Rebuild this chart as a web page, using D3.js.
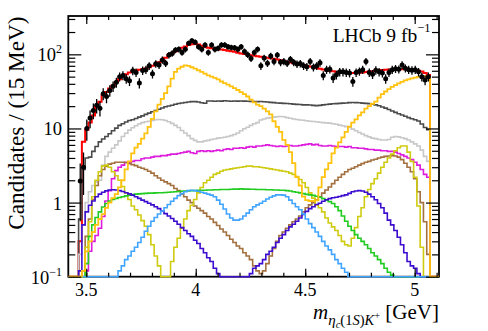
<!DOCTYPE html>
<html>
<head>
<meta charset="utf-8">
<script src="https://cdn.jsdelivr.net/npm/d3@7"></script>
<style>
	body { margin: 0; background: white; }
	svg text { font-family: "Liberation Serif", "Times New Roman", serif; fill: black; }
</style>
</head>
<body>
<div id="chart"></div>
<script>
// binning: 15 MeV bins starting at 3.465 GeV
var binLo = 3.465, binW = 0.015;

var dataPts = [1.96, 3.0, 10, 13.8, 17.5, 20.5, 18.8, 29.5, 27, 32.5,
	37, 42, 50, 52, 47, 44, 60, 57, 41, 60.5,
	62, 70, 54.6, 74.6, 72, 84, 76, 98, 103, 114,
	117, 106, 117, 141, 153, 146, 127, 117, 134, 106,
	134, 117, 121, 134, 134, 127, 124, 123, 117, 127,
	109, 99, 88, 106, 117, 70, 89, 76, 95, 80,
	98, 78, 80, 76, 86, 78, 74, 75, 70, 68,
	80, 67, 70, 77, 52, 62, 63, 48, 53, 58,
	58, 57, 56, 43, 57, 59, 62, 80, 57, 54,
	61, 58, 56, 47, 57, 62, 64, 63, 72, 65,
	62, 61, 62, 58, 50, 45, 50];

var totalFit = [0.3, 6.6, 9.6, 12, 15, 19.5, 23, 28, 31, 34.5,
	38, 42, 46, 51, 54, 57, 59, 61, 62, 63,
	64.5, 67, 70, 73, 78, 83, 90, 97, 104, 110,
	117, 123, 128, 134, 137, 138, 136, 131, 126, 123,
	121, 119, 117.5, 116, 114, 112, 110, 108, 105, 103,
	101, 99.5, 97.5, 96, 94, 93, 91.5, 90, 88.5, 87,
	85, 83, 81, 79, 77.5, 76, 74.5, 73, 71, 69.5,
	68.5, 67, 65.5, 64, 62.5, 61, 60, 59, 58, 57,
	56.5, 56, 55.8, 55.8, 56, 56.5, 57, 57.8, 58.5, 59.2,
	60, 60.8, 61.5, 62, 62.3, 62.5, 62.8, 63, 63, 63,
	62.5, 62, 61, 60, 58.5, 56, 52.7];

var darkGray = [0.6, 2.8, 4.0, 4.1, 4.9, 5.7, 6.6, 7.2, 7.8, 8.5,
	9.3, 10.1, 11, 11.6, 12.2, 12.8, 13.1, 13.6, 14.2, 14.8,
	15.5, 16.1, 16.8, 17.5, 18.2, 18.9, 19.6, 20.1, 20.6, 21.2,
	21.7, 22.1, 22.4, 22.7, 23, 23, 22.7, 22.2, 21.9, 23.5,
	23.5, 23.3, 23.5, 23.4, 23.6, 23.5, 23.3, 23.5, 23.4, 23.5,
	23.4, 23.3, 23.2, 23.1, 23, 23.1, 22.9, 22.7, 22.5, 22.3,
	22.1, 22.0, 21.8, 21.7, 21.5, 21.3, 21.1, 21.0, 20.8, 20.8,
	20.7, 20.5, 20.3, 20.5, 20.8, 21.0, 21.3, 21.5, 21.6, 21.8,
	22.0, 22.1, 22.3, 22.4, 22.3, 22.2, 22.0, 21.8, 21.6, 21.3,
	20.8, 20.2, 19.5, 18.8, 18.0, 17.2, 16.5, 15.8, 15.2, 14.6,
	14.0, 13.5, 13.1, 12.6, 11.5, 10.3, 9.6];

var lightGray = [0.2, 0.5, 1.0, 1.4, 1.7, 1.9, 2.0, 3.2, 4.2, 4.8,
	5.4, 6.0, 6.8, 7.8, 8.6, 9.5, 10.2, 10.9, 11.5, 12.0,
	12.3, 12.5, 12.8, 13.1, 13.2, 13.1, 12.8, 12.3, 11.7, 11.0,
	10.3, 9.4, 8.7, 8.0, 7.3, 6.9, 6.6, 6.6, 6.8, 6.9,
	7.1, 7.2, 7.4, 7.5, 7.6, 7.8, 8.0, 8.3, 8.7, 9.3,
	9.9, 10.4, 11.0, 11.6, 12.0, 13.0, 13.4, 13.8, 14.0, 14.2,
	14.4, 14.5, 14.4, 14.0, 13.7, 13.4, 13.2, 13.0, 12.9, 12.7,
	12.5, 12.4, 12.3, 12.1, 12.0, 11.9, 11.8, 11.6, 11.4, 11.1,
	10.9, 10.6, 10.3, 9.8, 9.3, 8.8, 8.4, 8.0, 7.7, 7.4,
	7.3, 7.1, 7.0, 7.0, 7.1, 7.6, 7.8, 7.7, 7.5, 7.3,
	7.0, 6.6, 6.2, 5.8, 5.1, 4.2, 3.6];

var gold = [0.05, 0.12, 0.22, 0.3, 0.4, 0.5, 0.6, 0.7, 0.85, 1.0,
	1.15, 1.3, 1.6, 2.0, 2.8, 3.6, 4.6, 5.5, 6.2, 7.3,
	8.6, 10.5, 13.5, 17, 21, 25, 30, 37, 47, 58,
	64, 68, 71, 70, 67, 64, 61, 58, 55, 52,
	50, 48, 46, 43, 41, 39, 37, 35, 33, 31,
	29, 27, 24.5, 22.5, 21, 20, 18.5, 17, 15.5, 12.5,
	10.5, 9, 7, 6, 4.8, 3.4, 2.2, 1.7, 1.2, 1.08,
	1.05, 1.05, 1.07, 1.6, 2.2, 2.8, 3.4, 4.6, 5.5, 6.5,
	7.6, 9, 10.6, 12, 13.3, 15, 16.5, 18.5, 20, 21.5,
	23, 26, 29, 31.5, 34, 36.5, 38.5, 40.5, 42.5, 44.5,
	46, 47.5, 48.5, 49.5, 50, 50.5, 49];

var magenta = [0, 0.05, 0.12, 0.22, 0.3, 0.36, 0.45, 0.65, 1.05, 1.45,
	2.1, 2.7, 3.0, 3.2, 3.5, 3.5, 3.6, 3.7, 3.7, 3.9,
	4.0, 4.0, 4.1, 4.2, 4.2, 4.3, 4.3, 4.4, 4.5, 4.5,
	4.6, 4.7, 4.8, 4.9, 4.7, 4.6, 4.9, 5.0, 4.9, 5.0,
	4.9, 5.0, 5.1, 5.0, 5.2, 5.3, 5.2, 5.4, 5.4, 5.5,
	5.4, 5.6, 5.7, 5.6, 5.8, 5.8, 5.9, 6.0, 5.9, 5.8,
	5.7, 5.8, 5.7, 5.8, 5.9, 5.8, 5.8, 5.9, 6.0, 6.1,
	6.2, 6.0, 6.1, 5.9, 5.8, 5.8, 5.9, 5.8, 5.7, 5.7,
	5.7, 5.6, 5.7, 5.5, 5.5, 5.4, 5.4, 5.3, 5.2, 5.2,
	5.1, 5.1, 5.0, 5.0, 4.9, 4.9, 4.8, 4.6, 4.4, 4.2,
	4.0, 3.8, 3.5, 3.2, 2.8, 2.4, 2.2];

var brown = [0.05, 0.12, 0.35, 0.6, 1.1, 1.7, 2.3, 2.8, 3.1, 3.3,
	3.4, 3.5, 3.5, 3.5, 3.45, 3.35, 3.25, 3.15, 3.0, 2.9,
	2.8, 2.65, 2.5, 2.3, 2.15, 2.0, 1.9, 1.8, 1.7, 1.55,
	1.45, 1.3, 1.2, 1.08, 1.0, 0.9, 0.84, 0.78, 0.72, 0.65,
	0.6, 0.54, 0.49, 0.44, 0.4, 0.36, 0.32, 0.29, 0.26, 0.24,
	0.21, 0.19, 0.17, 0.14, 0.12, 0.11, 0.12, 0.15, 0.19, 0.24,
	0.3, 0.36, 0.4, 0.45, 0.5, 0.55, 0.6, 0.66, 0.75, 0.85,
	0.93, 1.0, 1.09, 1.2, 1.34, 1.48, 1.62, 1.8, 2.0, 2.2,
	2.4, 2.6, 2.8, 2.9, 3.05, 3.2, 3.35, 3.5, 3.6, 3.75,
	3.85, 4.0, 4.1, 4.2, 4.25, 4.3, 4.25, 4.1, 3.8, 3.4,
	3.0, 2.6, 2.1, 1.4, 1.0, 0.55, 0.2];

var olive = [0.03, 0.1, 0.25, 0.55, 1.2, 2.0, 2.6, 3.1, 3.2, 3.0,
	2.6, 2.3, 2.0, 1.65, 1.35, 1.1, 0.9, 0.8, 0.68, 0.57,
	0.48, 0.37, 0.27, 0.19, 0.14, 0.05, 0.04, 0.05, 0.16, 0.25,
	0.33, 0.45, 0.6, 0.78, 0.92, 1.1, 1.35, 1.6, 1.85, 2.0,
	2.2, 2.4, 2.5, 2.65, 2.75, 2.8, 2.85, 2.9, 2.95, 3.0,
	3.05, 3.1, 3.1, 3.05, 3.05, 3.0, 2.95, 2.9, 2.85, 2.8,
	2.75, 2.7, 2.65, 2.6, 2.5, 2.4, 2.25, 2.05, 1.85, 1.6,
	1.35, 1.15, 0.93, 0.85, 0.75, 0.62, 0.53, 0.47, 0.42, 0.36,
	0.3, 0.27, 0.26, 0.33, 0.46, 0.65, 0.85, 1.2, 1.5, 1.8,
	2.1, 2.5, 3.0, 3.5, 4.0, 4.5, 5.0, 5.5, 5.8, 5.8,
	4.8, 3.6, 2.2, 0.9, 0.25, 0, 0];

var green = [0.02, 0.08, 0.15, 0.35, 0.5, 0.63, 0.75, 0.87, 0.97, 1.05,
	1.1, 1.14, 1.17, 1.2, 1.23, 1.26, 1.28, 1.3, 1.31, 1.32,
	1.33, 1.34, 1.34, 1.35, 1.36, 1.36, 1.37, 1.38, 1.39, 1.4,
	1.41, 1.42, 1.43, 1.44, 1.45, 1.45, 1.46, 1.47, 1.47, 1.48,
	1.48, 1.49, 1.49, 1.5, 1.5, 1.5, 1.51, 1.52, 1.52, 1.53,
	1.52, 1.52, 1.51, 1.51, 1.5, 1.5, 1.5, 1.49, 1.49, 1.48,
	1.48, 1.47, 1.47, 1.45, 1.43, 1.4, 1.38, 1.35, 1.32, 1.29,
	1.27, 1.25, 1.22, 1.18, 1.13, 1.08, 1.03, 0.97, 0.88, 0.78,
	0.66, 0.56, 0.48, 0.42, 0.37, 0.33, 0.3, 0.27, 0.24, 0.21,
	0.19, 0.17, 0.15, 0.13, 0.115, 0.105, 0, 0, 0, 0,
	0, 0, 0, 0, 0, 0, 0];

var violet = [0.12, 0.5, 0.75, 0.92, 1.05, 1.2, 1.3, 1.38, 1.44, 1.48,
	1.49, 1.48, 1.45, 1.41, 1.36, 1.31, 1.26, 1.2, 1.14, 1.08,
	1.03, 0.98, 0.93, 0.88, 0.83, 0.77, 0.71, 0.66, 0.61, 0.56,
	0.51, 0.46, 0.42, 0.38, 0.35, 0.31, 0.28, 0.24, 0.21, 0.18,
	0.16, 0.13, 0.11, 0.09, 0.06, 0.04, 0.03, 0.03, 0.04, 0.05,
	0.07, 0.09, 0.11, 0.13, 0.14, 0.15, 0.17, 0.2, 0.22, 0.25,
	0.29, 0.33, 0.37, 0.42, 0.47, 0.51, 0.56, 0.62, 0.69, 0.76,
	0.83, 0.88, 0.94, 0.98, 1.04, 1.09, 1.13, 1.16, 1.18, 1.21,
	1.24, 1.27, 1.33, 1.4, 1.43, 1.45, 1.43, 1.38, 1.3, 1.2,
	1.09, 0.97, 0.85, 0.72, 0.58, 0.5, 0.42, 0.34, 0.27, 0.21,
	0.16, 0.14, 0.13, 0.11, 0.1, 0, 0];

var lightBlue = [0, 0, 0, 0, 0, 0, 0, 0, 0, 0,
	0, 0, 0.12, 0.14, 0.17, 0.19, 0.22, 0.25, 0.29, 0.34,
	0.41, 0.48, 0.56, 0.63, 0.7, 0.77, 0.85, 0.94, 1.04, 1.14,
	1.24, 1.32, 1.4, 1.45, 1.47, 1.45, 1.42, 1.38, 1.34, 1.3,
	1.26, 1.2, 1.08, 0.95, 0.82, 0.7, 0.62, 0.58, 0.58, 0.6,
	0.66, 0.72, 0.8, 0.88, 0.93, 0.98, 1.04, 1.12, 1.18, 1.23,
	1.27, 1.27, 1.26, 1.2, 1.08, 0.97, 0.88, 0.8, 0.7, 0.6,
	0.52, 0.46, 0.4, 0.35, 0.3, 0.26, 0.23, 0.2, 0.17, 0.15,
	0.13, 0.115, 0.1, 0, 0, 0, 0, 0, 0, 0,
	0, 0, 0, 0, 0, 0, 0, 0, 0, 0,
	0, 0, 0, 0, 0, 0, 0];

var xTickMajor = [3.5, 4, 4.5, 5];
var xTickLabels = ["3.5", "4", "4.5", "5"];
var yTickMajor = [0.1, 1, 10, 100];
var yTickLabels = [["10", "\u22121"], ["1", ""], ["10", ""], ["10", "2"]];

var width = 488, height = 331;
var margin = {top: 16, right: 49, bottom: 54.3, left: 68.3};

var x = d3.scaleLinear().domain([3.418, 5.111]).range([margin.left, width - margin.right]);
var y = d3.scaleLog().domain([0.1, 329]).range([height - margin.bottom, margin.top]);
var yb = y.range()[0];
var x0 = x.range()[0], x1 = x.range()[1], y0 = y.range()[1];

var svg = d3.select("#chart").append("svg")
	.attr("width", width)
	.attr("height", height);

svg.append("rect").attr("width", width).attr("height", height).attr("fill", "white");

// frame first, histograms are painted over it like ROOT does
svg.append("rect")
	.attr("x", x0).attr("y", y0)
	.attr("width", x1 - x0).attr("height", yb - y0)
	.attr("fill", "none")
	.attr("stroke", "black")
	.attr("stroke-width", 1.8);

svg.append("clipPath").attr("id", "frame")
	.append("rect")
	.attr("x", x0).attr("y", y0)
	.attr("width", x1 - x0)
	.attr("height", yb - y0 + 1.2);

var plot = svg.append("g").attr("clip-path", "url(#frame)");

function stepPath(vals) {
	var pts = [[x0, yb], [x(binLo), yb]];
	vals.forEach(function(v, i) {
		var yy = v > 0.1 ? y(v) : yb;
		pts.push([x(binLo + i * binW), yy], [x(binLo + (i + 1) * binW), yy]);
	});
	pts.push([x(binLo + vals.length * binW), yb], [x1, yb]);
	return d3.line()(pts);
}

var templates = [
	{vals: totalFit, color: "#ff0000", w: 2},
	{vals: darkGray, color: "#4a4a4a", w: 1.6},
	{vals: lightGray, color: "#c8c8c8", w: 1.6},
	{vals: magenta, color: "#dd1cdd", w: 1.6},
	{vals: brown, color: "#a3703f", w: 1.6},
	{vals: olive, color: "#cfcb10", w: 1.6},
	{vals: green, color: "#1fcc1f", w: 1.6},
	{vals: violet, color: "#3d0ccf", w: 1.6},
	{vals: lightBlue, color: "#41a5ff", w: 1.6},
	{vals: gold, color: "#ffc20f", w: 1.8}
];

plot.selectAll("path.tmpl")
	.data(templates)
	.enter().append("path")
	.attr("class", "tmpl")
	.attr("d", function(d) { return stepPath(d.vals); })
	.attr("fill", "none")
	.attr("stroke", function(d) { return d.color; })
	.attr("stroke-width", function(d) { return d.w; });

// data points with poisson-like errors
var pts = plot.append("g").selectAll("g")
	.data(dataPts)
	.enter().append("g");
pts.append("line")
	.attr("x1", function(d, i) { return x(binLo + (i + 0.5) * binW); })
	.attr("x2", function(d, i) { return x(binLo + (i + 0.5) * binW); })
	.attr("y1", function(d) { return y(Math.max(0.1, d - Math.sqrt(d))); })
	.attr("y2", function(d) { return y(d + Math.sqrt(d)); })
	.attr("stroke", "black")
	.attr("stroke-width", 1.3);
pts.append("circle")
	.attr("cx", function(d, i) { return x(binLo + (i + 0.5) * binW); })
	.attr("cy", function(d) { return y(d); })
	.attr("r", 2.5)
	.attr("fill", "black");

// axes, ticks pointing inward
var xMinor = d3.range(3.5, 5.11, 0.1);
var yMinor = [];
[0.1, 1, 10, 100].forEach(function(dec) {
	for (var k = 2; k <= 9; k++) if (dec * k < 329) yMinor.push(dec * k);
});

svg.append("g").attr("transform", "translate(0," + yb + ")")
	.call(d3.axisBottom(x).tickValues(xMinor).tickSize(-4).tickFormat(""));
svg.append("g").attr("transform", "translate(0," + yb + ")")
	.call(d3.axisBottom(x).tickValues(xTickMajor).tickSize(-8).tickFormat(""));
svg.append("g").attr("transform", "translate(0," + y0 + ")")
	.call(d3.axisTop(x).tickValues(xMinor).tickSize(-4).tickFormat(""));
svg.append("g").attr("transform", "translate(0," + y0 + ")")
	.call(d3.axisTop(x).tickValues(xTickMajor).tickSize(-8).tickFormat(""));
svg.append("g").attr("transform", "translate(" + x0 + ",0)")
	.call(d3.axisLeft(y).tickValues(yMinor).tickSize(-7).tickFormat(""));
svg.append("g").attr("transform", "translate(" + x0 + ",0)")
	.call(d3.axisLeft(y).tickValues(yTickMajor).tickSize(-13).tickFormat(""));
svg.append("g").attr("transform", "translate(" + x1 + ",0)")
	.call(d3.axisRight(y).tickValues(yMinor).tickSize(-7).tickFormat(""));
svg.append("g").attr("transform", "translate(" + x1 + ",0)")
	.call(d3.axisRight(y).tickValues(yTickMajor).tickSize(-13).tickFormat(""));

svg.selectAll(".domain").remove();
svg.selectAll(".tick line").attr("stroke", "black").attr("stroke-width", 1.2);

svg.selectAll("text.xlab")
	.data(xTickMajor)
	.enter().append("text")
	.attr("class", "xlab")
	.attr("x", function(d) { return x(d); })
	.attr("y", yb + 19)
	.attr("text-anchor", "middle")
	.attr("font-size", 18)
	.text(function(d, i) { return xTickLabels[i]; });

var ylab = svg.selectAll("text.ylab")
	.data(yTickMajor)
	.enter().append("text")
	.attr("class", "ylab")
	.attr("x", 62)
	.attr("y", function(d) { return y(d) + 7; })
	.attr("text-anchor", "end")
	.attr("font-size", 18.5);
ylab.append("tspan").text(function(d, i) { return yTickLabels[i][0]; });
ylab.append("tspan")
	.attr("dy", -8)
	.attr("font-size", 12)
	.text(function(d, i) { return yTickLabels[i][1]; });

svg.append("text")
	.attr("transform", "translate(23.5,16.5) rotate(-90)")
	.attr("text-anchor", "end")
	.attr("font-size", 23.2)
	.text("Candidates / (15 MeV)");

var xt = svg.append("text")
	.attr("x", x1)
	.attr("y", 318.5)
	.attr("text-anchor", "end")
	.attr("font-size", 21);
xt.append("tspan").attr("font-style", "italic").text("m");
xt.append("tspan").attr("font-style", "italic").attr("font-size", 15).attr("dy", 6).text("\u03b7");
xt.append("tspan").attr("font-style", "italic").attr("font-size", 10.5).attr("dy", 3).text("c");
xt.append("tspan").attr("font-size", 14.5).attr("dy", -3).text("(1");
xt.append("tspan").attr("font-style", "italic").attr("font-size", 14.5).text("S");
xt.append("tspan").attr("font-size", 14.5).text(")");
xt.append("tspan").attr("font-style", "italic").attr("font-size", 14.5).text("K");
xt.append("tspan").attr("font-size", 10.5).attr("dy", -6).text("+");
xt.append("tspan").attr("dy", 0).text(" [GeV]");

var lhcb = svg.append("text")
	.attr("x", 332.7)
	.attr("y", 41.7)
	.attr("font-size", 19.5);
lhcb.append("tspan").text("LHCb 9 fb");
lhcb.append("tspan").attr("font-size", 12.5).attr("dy", -10).text("\u22121");
</script>
</body>
</html>
